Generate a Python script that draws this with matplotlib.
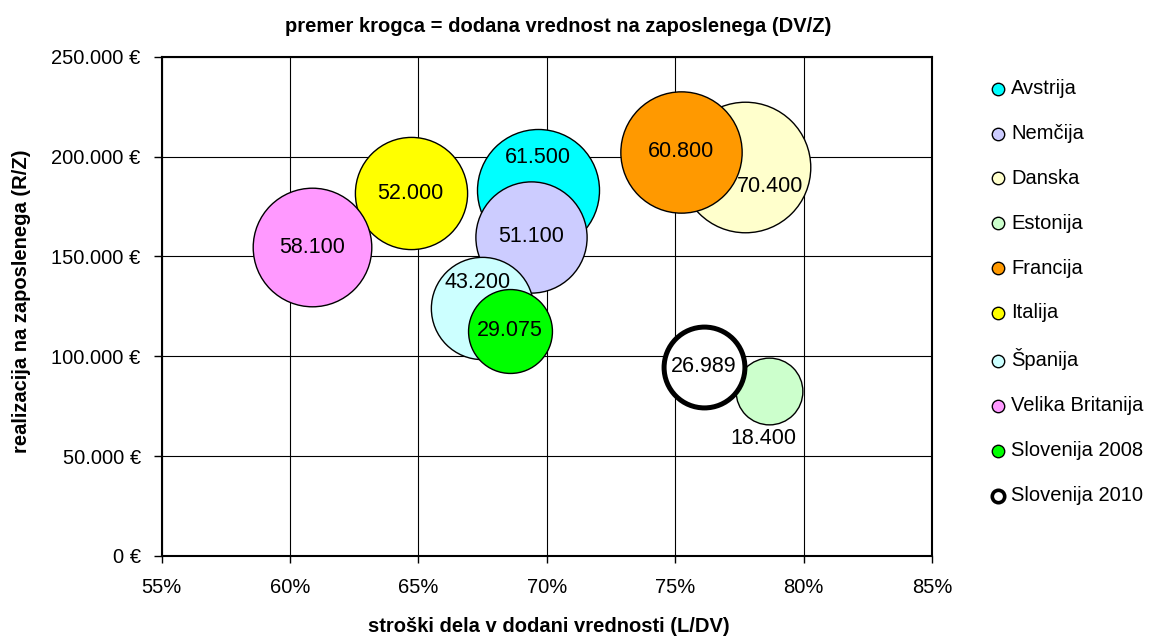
import matplotlib.pyplot as plt
from matplotlib.ticker import FuncFormatter, MultipleLocator

plt.rcParams["font.family"] = ["Liberation Sans", "DejaVu Sans"]

# ---------------------------------------------------------
# Data
# ---------------------------------------------------------

countries = [
    "Avstrija", "Nemčija", "Danska", "Estonija", "Francija",
    "Italija", "Španija", "Velika Britanija", "Slovenija 2008", "Slovenija 2010",
]
labour_share = [69.66, 69.37, 77.73, 78.65, 75.23, 64.70, 67.48, 60.87, 68.55, 76.11]
revenue_per_emp = [183400, 159800, 194700, 82500, 202500, 181600, 124400, 154700, 112800, 94800]
value_added = [61500, 51100, 70400, 18400, 60800, 52000, 43200, 58100, 29075, 26989]

colors = ["#00FFFF", "#CCCCFF", "#FFFFCC", "#CCFFCC", "#FF9900",
          "#FFFF00", "#CCFFFF", "#FF99FF", "#00FF00", "#FFFFFF"]

# label offsets (points) for the labels that were moved off-centre
label_offsets = [(0, 23), (0, 0), (18, -14), (-4, -34), (0, 0),
                 (0, 0), (-3, 18), (0, 0), (0, 0), (0, 0)]


def thousands(v):
    return f"{int(v):,}".replace(",", ".")


# ---------------------------------------------------------
# Plot
# ---------------------------------------------------------

fig = plt.figure(figsize=(11.58, 6.36), dpi=100)
ax = fig.add_axes([0.1395, 0.1258, 0.6654, 0.785])

for i, name in enumerate(countries):
    last = name == "Slovenija 2010"
    ax.scatter(
        labour_share[i],
        revenue_per_emp[i],
        s=0.1255 * value_added[i],
        color=colors[i],
        edgecolors="black",
        linewidths=3.6 if last else 1.0,
        zorder=3 + i,
        label=name,
    )
    ax.annotate(
        thousands(value_added[i]),
        (labour_share[i], revenue_per_emp[i]),
        xytext=label_offsets[i],
        textcoords="offset points",
        ha="center",
        va="center",
        fontsize=15.5,
        zorder=20,
    )

ax.set_xlim(55, 85)
ax.set_ylim(0, 250000)
ax.xaxis.set_major_locator(MultipleLocator(5))
ax.yaxis.set_major_locator(MultipleLocator(50000))
ax.xaxis.set_major_formatter(FuncFormatter(lambda v, p: f"{v:.0f}%"))
ax.yaxis.set_major_formatter(FuncFormatter(lambda v, p: f"{thousands(v)} €"))
ax.tick_params(axis="x", labelsize=14.5, length=5, width=1, pad=11)
ax.tick_params(axis="y", labelsize=14.5, length=6, width=1, pad=9)

ax.grid(True, color="black", linewidth=0.8)
ax.set_axisbelow(True)
for sp in ax.spines.values():
    sp.set_linewidth(1.5)

ax.set_xlabel("stroški dela v dodani vrednosti (L/DV)", fontsize=14.5,
              fontweight="bold", va="center")
ax.xaxis.set_label_coords(549 / 1158, 1 - 627 / 636, transform=fig.transFigure)
ax.set_ylabel("realizacija na zaposlenega (R/Z)", fontsize=14.5,
              fontweight="bold", va="center")
ax.yaxis.set_label_coords(22 / 1158, 1 - 301 / 636, transform=fig.transFigure)

fig.text(558 / 1158, 1 - 27 / 636, "premer krogca = dodana vrednost na zaposlenega (DV/Z)",
         ha="center", va="center", fontsize=14.5, fontweight="bold")

handles, labels = ax.get_legend_handles_labels()
leg = ax.legend(
    handles,
    labels,
    loc="upper left",
    bbox_to_anchor=(990 / 1158, 1 - 79 / 636),
    bbox_transform=fig.transFigure,
    frameon=False,
    fontsize=14.5,
    labelspacing=1.285,
    handletextpad=0.25,
    handlelength=0.8,
    borderaxespad=0,
    borderpad=0,
)
for h in leg.legend_handles:
    h.set_sizes([80])
leg.legend_handles[-1].set_linewidths([2.6])

fig.savefig("out.png", dpi=100)
